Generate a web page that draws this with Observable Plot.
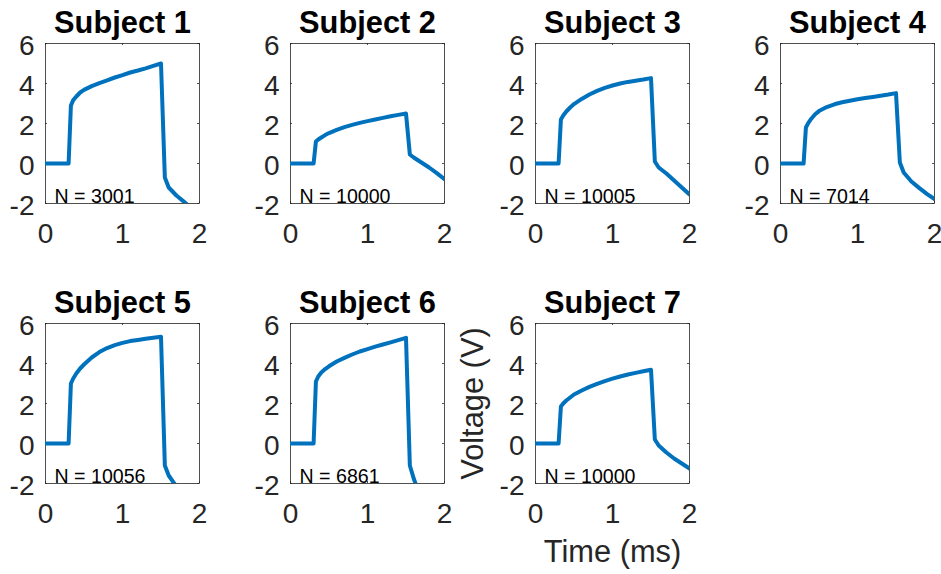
<!DOCTYPE html>
<html>
<head>
<meta charset="utf-8">
<script src="https://cdn.jsdelivr.net/npm/d3@7"></script>
<script src="https://cdn.jsdelivr.net/npm/@observablehq/plot@0.6"></script>
<style>
  html, body { margin: 0; padding: 0; background: #fff; }
  #chart { position: relative; width: 941px; height: 574px; overflow: hidden; background: #fff; }
  #chart svg { position: absolute; }
</style>
</head>
<body>
<div id="chart"></div>
<script>
// ---- Data ----
const titles = ["Subject 1", "Subject 2", "Subject 3", "Subject 4", "Subject 5", "Subject 6", "Subject 7"];
const counts = [3001, 10000, 10005, 7014, 10056, 6861, 10000];
const time = [0, 0.3, 0.33, 0.36, 0.4, 0.45, 0.5, 0.6, 0.7, 0.8, 0.9, 1.0, 1.1, 1.2, 1.3, 1.4, 1.5, 1.55, 1.6, 1.7, 1.8, 1.9, 2.0];
const voltage1 = [0, 0, 2.9, 3.17, 3.35, 3.55, 3.68, 3.87, 4.02, 4.16, 4.3, 4.42, 4.55, 4.65, 4.76, 4.88, 5.0, -0.7, -1.2, -1.6, -1.92, -2.25, -2.55];
const voltage2 = [0, 0, 1.1, 1.2, 1.3, 1.42, 1.52, 1.68, 1.82, 1.93, 2.03, 2.12, 2.2, 2.28, 2.36, 2.43, 2.5, 0.45, 0.3, 0.05, -0.2, -0.48, -0.78];
const voltage3 = [0, 0, 2.2, 2.4, 2.6, 2.8, 2.97, 3.23, 3.45, 3.63, 3.78, 3.9, 4.0, 4.08, 4.14, 4.2, 4.27, 0.1, -0.2, -0.5, -0.85, -1.2, -1.55];
const voltage4 = [0, 0, 1.8, 2.02, 2.24, 2.46, 2.62, 2.82, 2.96, 3.06, 3.14, 3.21, 3.27, 3.33, 3.39, 3.45, 3.52, 0.05, -0.45, -0.9, -1.22, -1.52, -1.78];
const voltage5 = [0, 0, 3.0, 3.25, 3.5, 3.75, 3.95, 4.3, 4.57, 4.77, 4.92, 5.03, 5.12, 5.18, 5.24, 5.29, 5.34, -1.1, -1.6, -2.15, -2.6, -3.0, -3.4];
const voltage6 = [0, 0, 3.1, 3.35, 3.55, 3.72, 3.86, 4.1, 4.28, 4.45, 4.6, 4.72, 4.84, 4.95, 5.06, 5.17, 5.28, -1.1, -1.75, -2.8, -3.5, -4.0, -4.5];
const voltage7 = [0, 0, 1.85, 2.0, 2.15, 2.3, 2.45, 2.65, 2.83, 2.98, 3.12, 3.24, 3.35, 3.45, 3.53, 3.61, 3.69, 0.2, -0.1, -0.45, -0.75, -1.0, -1.25];
const voltages = [voltage1, voltage2, voltage3, voltage4, voltage5, voltage6, voltage7];
const xTicks = [0, 1, 2];
const yTicks = [-2, 0, 2, 4, 6];
const xLabel = "Time (ms)";
const yLabel = "Voltage (V)";

// ---- Layout ----
const FONT = "'Liberation Sans', Arial, Helvetica, sans-serif";
const INK = "#262626";
const LINE = "#0072BD";
const W = 154, H = 160;
const mL = 85, mR = 12, mT = 45, mB = 95;
const colLeft = [45, 290, 535, 780];
const rowTop = [43, 323];

const chart = document.getElementById("chart");

voltages.forEach((vals, i) => {
  const col = i % 4, row = Math.floor(i / 4);
  const data = time.map((t, k) => ({t, v: vals[k]}));
  const last = i === voltages.length - 1;
  const marks = [
    Plot.frame({stroke: INK, strokeWidth: 0.8}),
    Plot.tickY(yTicks, {y: d => d, stroke: INK, strokeWidth: 0.8, insetRight: W - 2}),
    Plot.tickY(yTicks, {y: d => d, stroke: INK, strokeWidth: 0.8, insetLeft: W - 2}),
    Plot.tickX(xTicks, {x: d => d, stroke: INK, strokeWidth: 0.8, insetTop: H - 2}),
    Plot.tickX(xTicks, {x: d => d, stroke: INK, strokeWidth: 0.8, insetBottom: H - 2}),
    Plot.line(data, {x: "t", y: "v", stroke: LINE, strokeWidth: 4, clip: true}),
    Plot.text([`N = ${counts[i]}`], {
      frameAnchor: "bottom-left", textAnchor: "start", lineAnchor: "bottom",
      dx: 9, dy: -1, fontSize: 19.6, fill: "#000"
    }),
    Plot.text([titles[i]], {
      frameAnchor: "top", textAnchor: "middle", lineAnchor: "bottom",
      dy: -11, fontSize: 30.8, fontWeight: "bold", fill: "#000"
    })
  ];
  if (last) {
    marks.push(Plot.text([yLabel], {
      frameAnchor: "left", textAnchor: "middle", lineAnchor: "bottom",
      rotate: -90, dx: -53, fontSize: 30.8, fill: INK
    }));
    marks.push(Plot.text([xLabel], {
      frameAnchor: "bottom", textAnchor: "middle", lineAnchor: "bottom",
      dy: 78, fontSize: 30.8, fill: INK
    }));
  }
  const svg = Plot.plot({
    width: mL + W + mR,
    height: mT + H + mB,
    marginLeft: mL, marginRight: mR, marginTop: mT, marginBottom: mB,
    style: {fontFamily: FONT, fontSize: "28px", color: INK, background: "transparent", overflow: "visible"},
    x: {domain: [0, 2], ticks: xTicks, tickSize: 0, tickPadding: 20, tickFormat: d => String(d), label: null},
    y: {domain: [-2, 6], ticks: yTicks, tickSize: 0, tickPadding: 11, tickFormat: d => String(d), label: null},
    marks: [
      ...marks,
      Plot.axisY({ticks: yTicks, tickSize: 0, tickPadding: 11, tickFormat: d => String(d), dy: 3, label: null})
    ]
  });
  svg.style.left = (colLeft[col] - mL) + "px";
  svg.style.top = (rowTop[row] - mT) + "px";
  chart.appendChild(svg);
});
</script>
</body>
</html>
